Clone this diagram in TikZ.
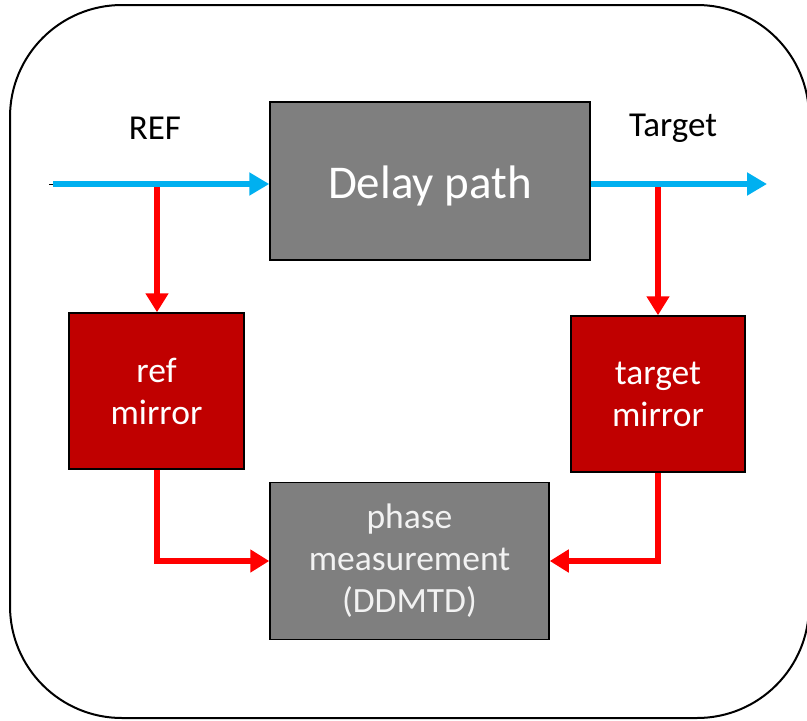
\documentclass[tikz,border=0pt]{standalone}
\usepackage{fontspec}
\setmainfont{Carlito}
\usetikzlibrary{arrows.meta}
\definecolor{boxgray}{HTML}{7F7F7F}
\definecolor{mirrorred}{HTML}{C00000}
\definecolor{linkred}{HTML}{FF0000}
\definecolor{sigblue}{HTML}{00B0F0}
\definecolor{softwhite}{HTML}{F2F2F2}
\tikzset{
  block/.style={draw=black, line width=1.5pt, inner sep=0pt, align=center,
    font=\fontsize{35.5}{42}\selectfont},
  graybox/.style={block, fill=boxgray, text=softwhite},
  mirrorbox/.style={block, fill=mirrorred, text=white},
  label/.style={font=\fontsize{35}{40}\selectfont, text=black},
  signal/.style={draw=sigblue, line width=6pt, -{Triangle[length=20pt,width=22pt]}},
  link/.style={draw=linkred, line width=6pt, -{Triangle[length=19pt,width=22pt]}},
}
\begin{document}
\begin{tikzpicture}[x=1pt, y=-1pt]
  \clip (0,0) rectangle (807,721);
  \fill[white] (0,0) rectangle (807,721);
  % outer frame
  \draw[line width=2pt, rounded corners=112pt] (10,5) rectangle (809,718);

  % blocks
  \node[graybox, minimum width=320pt, minimum height=158pt,
        font=\fontsize{47}{56}\selectfont, text=white] (delay) at (430,181)
        {\raisebox{-5pt}[\height][\depth]{Delay path}};
  \node[mirrorbox, minimum width=175pt, minimum height=156pt] (refm) at (156.5,391) {ref\\mirror};
  \node[mirrorbox, minimum width=174pt, minimum height=156pt] (tgtm) at (658,394) {target\\mirror};
  \node[graybox, minimum width=279pt, minimum height=157pt] (phase) at (409.5,561)
        {phase\\measurement\\(DDMTD)};

  % labels
  \node[label] (reflbl) at (155,128) {REF};
  \node[label] (tgtlbl) at (673,128) {Target};

  % signal end points and tap points
  \coordinate (refin) at (53,184);
  \coordinate (tgtout) at (767,184);
  \coordinate (tapL) at (157,184);
  \coordinate (tapR) at (658,184);

  % taps to mirrors
  \draw[link] (tapL) -- (tapL |- refm.north);
  \draw[link] (tapR) -- (tapR |- tgtm.north);
  % mirrors to phase measurement
  \draw[link] (refm.south) |- (phase.west);
  \draw[link] (tgtm.south) |- (phase.east);

  % signal path
  \draw[black, line width=1pt] (49,184) -- (refin);
  \draw[signal] (refin) -- (refin -| delay.west);
  \draw[signal] (delay.east |- tgtout) -- (tgtout);
\end{tikzpicture}
\end{document}
